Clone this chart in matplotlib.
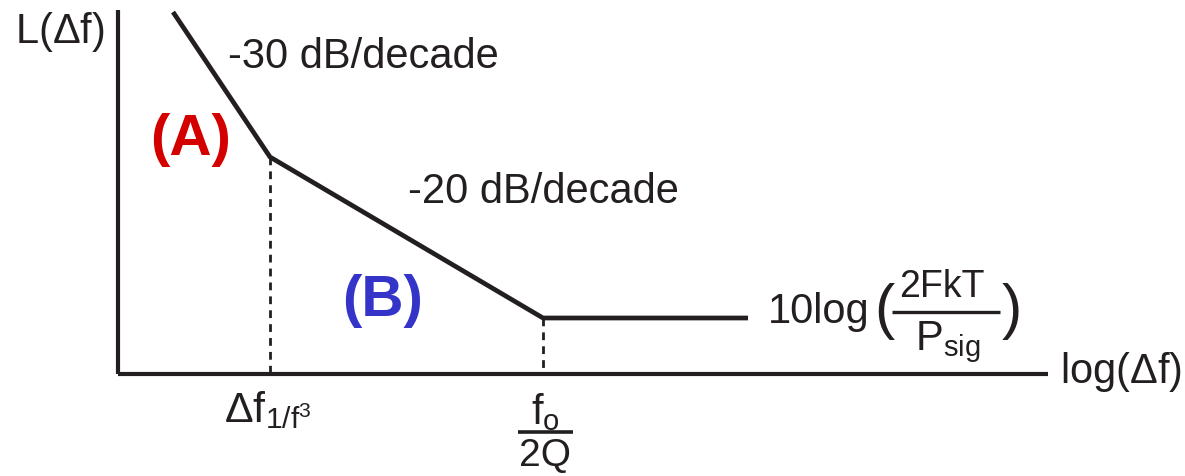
import matplotlib.pyplot as plt

plt.rcParams['font.family'] = ['Liberation Sans', 'DejaVu Sans']
plt.rcParams['mathtext.fontset'] = 'custom'
plt.rcParams['mathtext.rm'] = 'Liberation Sans'
plt.rcParams['mathtext.it'] = 'Liberation Sans'
plt.rcParams['mathtext.bf'] = 'Liberation Sans:bold'

# corner points of the phase noise sketch (x ~ log offset, y ~ level, drawn in pixel units)
curve_x = [173, 270, 543, 748]
curve_y = [12, 157, 318, 318]
# corner frequencies where dashed drop lines go to the axis
corner_x = [270, 543]
corner_y = [157, 318]
axis_origin = (118, 374)
axis_x_end = 1048
axis_y_top = 10

INK = '#231f20'

fig = plt.figure(figsize=(11.85, 4.76), dpi=100)
ax = fig.add_axes([0, 0, 1, 1])
ax.set_xlim(0, 1185)
ax.set_ylim(476, 0)
ax.axis('off')

# axes
ax.plot([axis_origin[0], axis_origin[0]], [axis_y_top, axis_origin[1]], color=INK, lw=3, solid_capstyle='butt')
ax.plot([axis_origin[0], axis_x_end], [axis_origin[1], axis_origin[1]], color=INK, lw=3, solid_capstyle='butt')

# curve
ax.plot(curve_x, curve_y, color=INK, lw=3.4, solid_capstyle='butt', solid_joinstyle='miter')

# dashed drop lines
for cx, cy in zip(corner_x, corner_y):
    ax.plot([cx, cx], [cy, axis_origin[1]], color=INK, lw=2, ls=(0, (2.8, 2.2)))

fs = 30
ax.text(15, 43, r'L($\Delta$f)', fontsize=fs, va='baseline', ha='left', color=INK)
ax.text(1060, 383, r'log($\Delta$f)', fontsize=fs, va='baseline', ha='left', color=INK)
ax.text(228, 68, '-30 dB/decade', fontsize=fs, va='baseline', ha='left', color=INK)
ax.text(408, 203, '-20 dB/decade', fontsize=fs, va='baseline', ha='left', color=INK)
ax.text(150, 155, '(A)', fontsize=42, fontweight='bold', va='baseline', ha='left', color='#d40000')
ax.text(342, 316, '(B)', fontsize=42, fontweight='bold', va='baseline', ha='left', color='#3434c8')

# 10log(2FkT / Psig)
ax.text(768, 323, '10log', fontsize=fs, va='baseline', ha='left', color=INK)
ax.text(874, 312, '(', fontsize=44, va='center', ha='left', color=INK)
ax.text(1022, 312, ')', fontsize=44, va='center', ha='right', color=INK)
ax.text(942, 297, '2FkT', fontsize=27, va='baseline', ha='center', color=INK)
ax.plot([892, 1000], [312, 312], color=INK, lw=2.4, solid_capstyle='butt')
ax.text(948, 350, r'P$_{\mathrm{sig}}$', fontsize=fs, va='baseline', ha='center', color=INK)

# tick labels under the corner frequencies
ax.text(224, 422, r'$\Delta$f$_{1/\mathrm{f}^3}$', fontsize=31, va='baseline', ha='left', color=INK)
ax.text(545, 424, r'f$_{\mathrm{o}}$', fontsize=fs, va='baseline', ha='center', color=INK)
ax.plot([518, 573], [432, 432], color=INK, lw=2.6, solid_capstyle='butt')
ax.text(545, 466, '2Q', fontsize=28, va='baseline', ha='center', color=INK)

fig.savefig('out.png', dpi=100)
